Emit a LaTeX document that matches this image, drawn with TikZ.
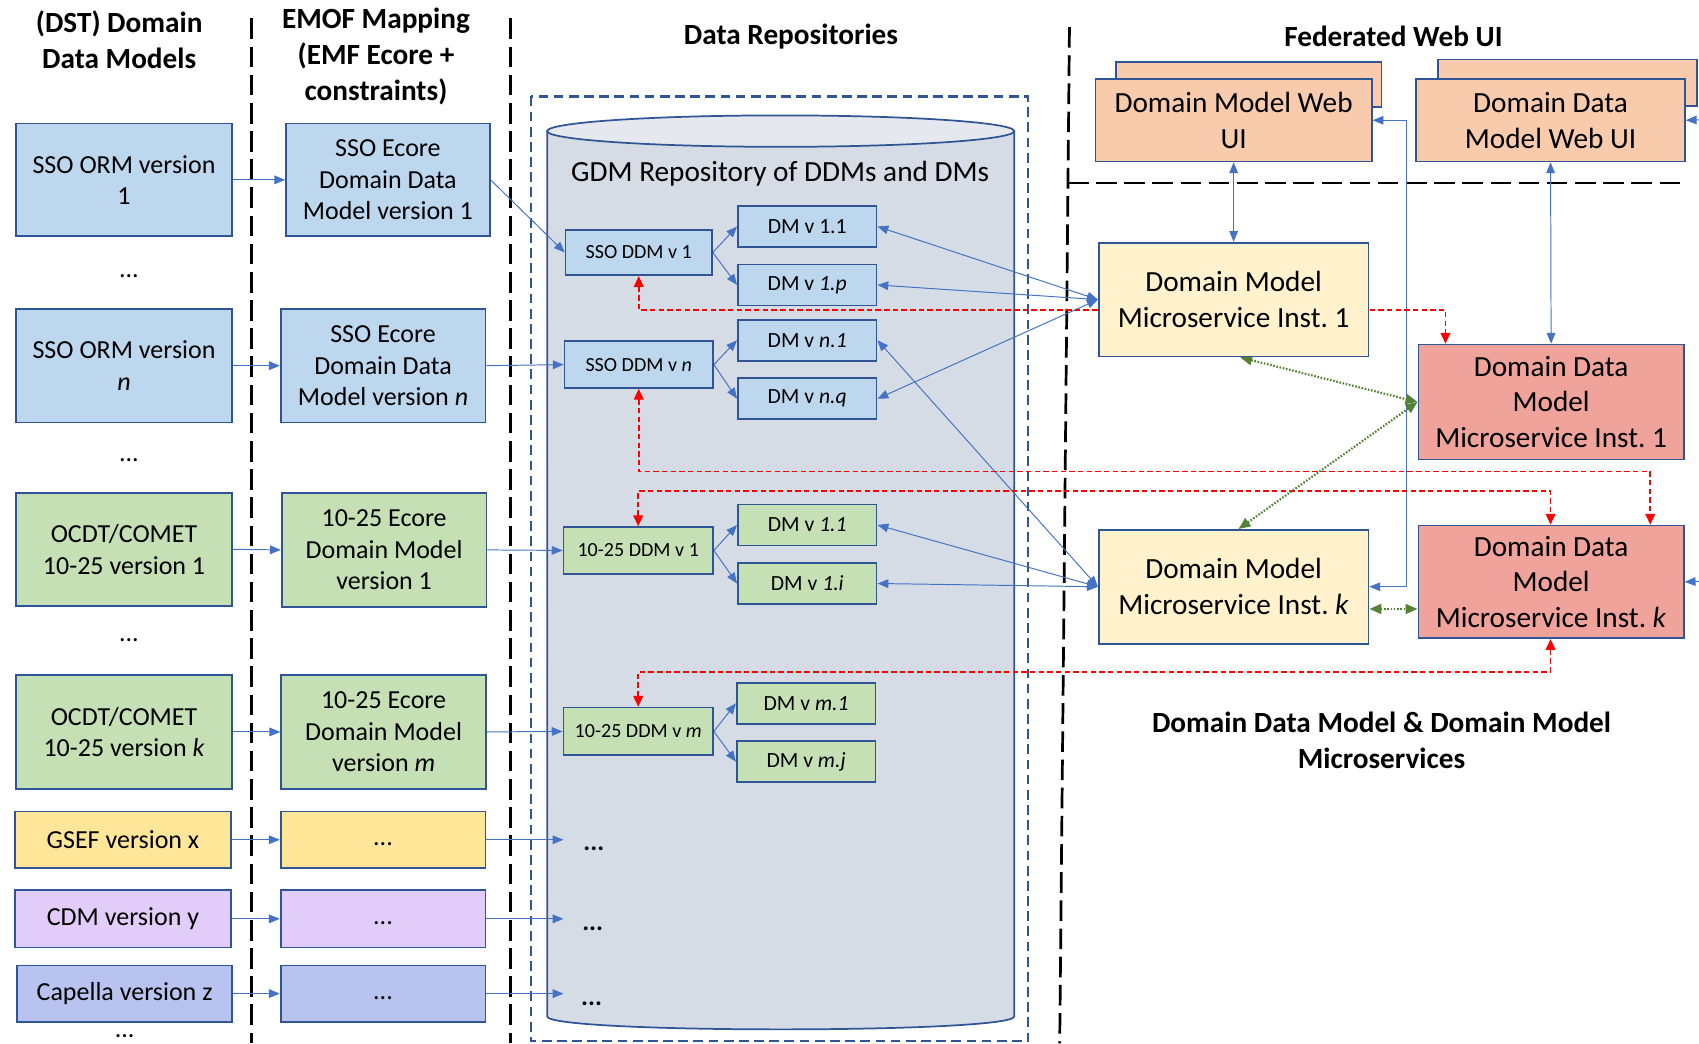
\documentclass[tikz,border=0pt]{standalone}
\usepackage{fontspec}
\setmainfont{Carlito}
\usetikzlibrary{arrows.meta,calc}
\frenchspacing

\definecolor{boxline}{HTML}{2F5597}
\definecolor{conn}{HTML}{4472C4}
\definecolor{bluefill}{HTML}{BDD7EE}
\definecolor{greenfill}{HTML}{C5E0B4}
\definecolor{gseffill}{HTML}{FFE699}
\definecolor{cdmfill}{HTML}{E2CCFA}
\definecolor{capfill}{HTML}{B9C3EF}
\definecolor{cylfill}{HTML}{D6DCE5}
\definecolor{cyltop}{HTML}{E5E9EF}
\definecolor{webfill}{HTML}{F8CBAD}
\definecolor{dmmsfill}{HTML}{FFF2CC}
\definecolor{ddmmsfill}{HTML}{EFA39B}
\definecolor{linkred}{HTML}{FF0000}
\definecolor{linkgreen}{HTML}{548235}

\pgfdeclarelayer{bg}
\pgfdeclarelayer{links}
\pgfsetlayers{bg,links,main}

\tikzset{
  box/.style={draw=boxline, line width=1.6pt, inner sep=0pt, align=center},
  sz/.style 2 args={minimum width=#1pt, minimum height=#2pt},
  fsL/.style={font=\fontsize{24}{29}\selectfont},
  fsH/.style={font=\bfseries\fontsize{27}{33}\selectfont},
  fsR/.style={font=\fontsize{27}{33}\selectfont},
  fsDDM/.style={font=\fontsize{18.5}{22}\selectfont},
  fsDM/.style={font=\fontsize{20}{24}\selectfont},
  fsDots/.style={font=\bfseries\fontsize{24}{29}\selectfont},
  lbl/.style={inner sep=0pt, align=center},
  flow/.style={draw=conn, line width=0.9pt, -{Triangle[length=10pt,width=8pt]}},
  flow2/.style={draw=conn, line width=0.9pt, {Triangle[length=10pt,width=8pt]}-{Triangle[length=10pt,width=8pt]}},
  redlink/.style={draw=linkred, line width=1.5pt, dash pattern=on 5pt off 3pt,
    {Triangle[length=10pt,width=9pt]}-{Triangle[length=10pt,width=9pt]}},
  greenlink/.style={draw=linkgreen, line width=2pt, dash pattern=on 1.5pt off 1.5pt,
    {Triangle[length=11pt,width=9pt]}-{Triangle[length=11pt,width=9pt]}},
  sepline/.style={draw=black, line width=2.5pt, dash pattern=on 19pt off 7pt},
  repoframe/.style={draw=boxline, line width=2pt, dash pattern=on 9pt off 5pt},
}
% ellipsis set on a full-height line, so it sits on the baseline like normal text
\newcommand{\moredots}{\vphantom{Ag}...}

\begin{document}
\begin{tikzpicture}[x=1pt,y=-1pt]
\useasboundingbox (0,0) rectangle (1568,963);

% ---------- column headers ----------
\node[lbl,fsH] (hDST) at (110,37) {(DST) Domain\\Data Models};
\node[lbl,fsH] (hEMOF) at (347,52) {EMOF Mapping\\(EMF Ecore +\\constraints)};
\node[lbl,fsH] (hRepo) at (730,34) {Data Repositories};
\node[lbl,fsH] (hWeb) at (1286,34) {Federated Web UI};
\node[lbl,fsH] (hMS) at (1275,683) {Domain Data Model \& Domain Model\\Microservices};

% ---------- domain data models ----------
\node[box,fill=bluefill,fsL,sz={199}{104}] (ormA) at (114.5,166) {SSO ORM version\\1};
\node[box,fill=bluefill,fsL,sz={199}{105}] (ormN) at (114.5,337.5) {SSO ORM version\\\textit{n}};
\node[box,fill=greenfill,fsL,sz={199}{104}] (ocdtA) at (114.5,507) {OCDT/COMET\\10-25 version 1};
\node[box,fill=greenfill,fsL,sz={199}{105}] (ocdtK) at (114.5,675.5) {OCDT/COMET\\10-25 version \textit{k}};
\node[box,fill=gseffill,fsL,sz={199}{52}] (gsef) at (113.5,775) {GSEF version x};
\node[box,fill=cdmfill,fsL,sz={199}{53}] (cdm) at (113.5,848) {CDM version y};
\node[box,fill=capfill,fsL,sz={198}{52}] (cap) at (115,917) {Capella version z};

\node[lbl,fsL] (dotsL1) at (119,255) {...};
\node[lbl,fsL] (dotsL2) at (119,425) {...};
\node[lbl,fsL] (dotsL3) at (119,591) {...};
\node[lbl,fsL] (dotsL4) at (115,956) {...};

% ---------- EMOF mapping ----------
\node[box,fill=bluefill,fsL,sz={188}{104}] (ecoreA) at (358,166) {SSO Ecore\\Domain Data\\Model version 1};
\node[box,fill=bluefill,fsL,sz={189}{105}] (ecoreN) at (353.5,337.5) {SSO Ecore\\Domain Data\\Model version \textit{n}};
\node[box,fill=greenfill,fsL,sz={189}{105}] (ecoreT) at (354.5,507.5) {10-25 Ecore\\Domain Model\\version 1};
\node[box,fill=greenfill,fsL,sz={189}{105}] (ecoreM) at (354,675.5) {10-25 Ecore\\Domain Model\\version \textit{m}};
\node[box,fill=gseffill,fsL,sz={189}{52}] (gsefE) at (353.5,775) {\moredots};
\node[box,fill=cdmfill,fsL,sz={189}{53}] (cdmE) at (353.5,848) {\moredots};
\node[box,fill=capfill,fsL,sz={189}{52}] (capE) at (353.5,917) {\moredots};

% ---------- separators and repository ----------
\begin{pgfonlayer}{bg}
  \draw[sepline] (232,17) -- (232,963);
  \draw[sepline] (471,17) -- (471,963);
  \draw[sepline] (987,25) -- (978,963);
  \draw[sepline] (985.6,169) -- (1550,169);
  \draw[repoframe] (490,89) rectangle (949,961);
  \filldraw[fill=cylfill, draw=boxline, line width=1.6pt]
    (505,121) -- (505,938) .. controls (505,954) and (936,954) .. (936,938) -- (936,121) -- cycle;
  \filldraw[fill=cyltop, draw=boxline, line width=1.6pt]
    (720.5,121) ellipse [x radius=215.5, y radius=14.5];
\end{pgfonlayer}

\node[lbl,fsR] (gdm) at (720,160) {GDM Repository of DDMs and DMs};

\node[box,fill=bluefill,fsDDM,sz={135}{42}] (ssoA) at (589.5,233) {SSO DDM v 1};
\node[box,fill=bluefill,fsDM,sz={128}{38}] (dmA1) at (745,209) {DM v 1.1};
\node[box,fill=bluefill,fsDM,sz={128}{38}] (dmAp) at (745,263) {DM v \textit{1.p}};
\node[box,fill=bluefill,fsDDM,sz={137}{43}] (ssoN) at (589.5,336.5) {SSO DDM v \textit{n}};
\node[box,fill=bluefill,fsDM,sz={128}{38}] (dmN1) at (745,314) {DM v \textit{n.1}};
\node[box,fill=bluefill,fsDM,sz={128}{38}] (dmNq) at (745,368) {DM v \textit{n.q}};
\node[box,fill=greenfill,fsDDM,sz={138}{43}] (ddmT) at (589,508) {10-25 DDM v 1};
\node[box,fill=greenfill,fsDM,sz={128}{38}] (dmT1) at (745,484.5) {DM v \textit{1.1}};
\node[box,fill=greenfill,fsDM,sz={128}{38}] (dmTi) at (745,538.5) {DM v \textit{1.i}};
\node[box,fill=greenfill,fsDDM,sz={138}{44}] (ddmM) at (589,675) {10-25 DDM v \textit{m}};
\node[box,fill=greenfill,fsDM,sz={128}{38}] (dmM1) at (744,649) {DM v \textit{m.1}};
\node[box,fill=greenfill,fsDM,sz={128}{38}] (dmMj) at (744,703) {DM v \textit{m.j}};

\coordinate (inG) at (520,775);
\coordinate (inC) at (520,848);
\coordinate (inP) at (520,917);
\node[lbl,fsDots] (dotsR1) at (548,783) {...};
\node[lbl,fsDots] (dotsR2) at (547,857) {...};
\node[lbl,fsDots] (dotsR3) at (546,926) {...};

% ---------- web UIs and microservices ----------
\draw[fill=webfill, draw=boxline, line width=1.6pt] (1030,57) rectangle (1275,99);
\node[box,fill=webfill,fsR,sz={255}{76}] (dmWeb) at (1138.5,111) {Domain Model Web\\UI};
\draw[fill=webfill, draw=boxline, line width=1.6pt] (1327,55) rectangle (1566,98);
\node[box,fill=webfill,fsR,sz={248}{76}] (ddmWeb) at (1431,111) {Domain Data\\Model Web UI};

\node[box,fill=dmmsfill,fsR,sz={249}{105}] (dmMS1) at (1138.5,276.5) {Domain Model\\Microservice Inst. 1};
\node[box,fill=ddmmsfill,fsR,sz={245}{106}] (ddmMS1) at (1431.5,371) {Domain Data\\Model\\Microservice Inst. 1};
\node[box,fill=dmmsfill,fsR,sz={249}{105}] (dmMSk) at (1138.5,541.5) {Domain Model\\Microservice Inst. \textit{k}};
\node[box,fill=ddmmsfill,fsR,sz={245}{104}] (ddmMSk) at (1431.5,537) {Domain Data\\Model\\Microservice Inst. \textit{k}};

\coordinate (extA) at (1590,110);
\coordinate (extB) at (1590,536);
\coordinate (r1) at (1334,286);
\coordinate (r2) at (1523,435);
\coordinate (r3) at (1431,453);
\coordinate (r4) at (1431,620);

% ---------- connectors ----------
\begin{pgfonlayer}{links}
  \draw[flow] (ormA.east) -- (ecoreA.west);
  \draw[flow] (ormN.east) -- (ecoreN.west);
  \draw[flow] (ocdtA.east) -- (ecoreT.west);
  \draw[flow] (ocdtK.east) -- (ecoreM.west);
  \draw[flow] (gsef.east) -- (gsefE.west);
  \draw[flow] (cdm.east) -- (cdmE.west);
  \draw[flow] (cap.east) -- (capE.west);

  \draw[flow] (ecoreA.east) -- (ssoA.west);
  \draw[flow] (ecoreN.east) -- (ssoN.west);
  \draw[flow] (ecoreT.east) -- (ddmT.west);
  \draw[flow] (ecoreM.east) -- (ddmM.west);
  \draw[flow] (gsefE.east) -- (inG);
  \draw[flow] (cdmE.east) -- (inC);
  \draw[flow] (capE.east) -- (inP);

  \draw[flow] (ssoA.east) -- (dmA1.west);
  \draw[flow] (ssoA.east) -- (dmAp.west);
  \draw[flow] (ssoN.east) -- (dmN1.west);
  \draw[flow] (ssoN.east) -- (dmNq.west);
  \draw[flow] (ddmT.east) -- (dmT1.west);
  \draw[flow] (ddmT.east) -- (dmTi.west);
  \draw[flow] (ddmM.east) -- (dmM1.west);
  \draw[flow] (ddmM.east) -- (dmMj.west);

  \draw[flow2] (dmMS1.west) -- (dmA1.east);
  \draw[flow2] (dmMS1.west) -- (dmAp.east);
  \draw[flow2] (dmMS1.west) -- (dmNq.east);
  \draw[flow2] (dmMSk.west) -- (dmN1.east);
  \draw[flow2] (dmMSk.west) -- (dmT1.east);
  \draw[flow2] (dmMSk.west) -- (dmTi.east);

  \draw[flow2] (dmWeb.south) -- (dmMS1.north);
  \draw[flow2] (ddmWeb.south) -- (ddmMS1.north);
  \draw[flow2] (dmWeb.east) -- ++(31,0) |- (dmMSk.east);
  \draw[flow] (extA) -- (ddmWeb.east);
  \draw[flow] (extB) -- (ddmMSk.east);

  \draw[redlink] (ssoA.south) |- (r1) -- (r1 |- ddmMS1.north);
  \draw[redlink] (ssoN.south) |- (r2) -- (r2 |- ddmMSk.north);
  \draw[redlink] (ddmT.north) |- (r3) -- (r3 |- ddmMSk.north);
  \draw[redlink] (ddmM.north) |- (r4) -- (r4 |- ddmMSk.south);

  \draw[greenlink] ($(dmMS1.south)+(6,0)$) -- (ddmMS1.west);
  \draw[greenlink] (ddmMS1.west) -- ($(dmMSk.north)+(4.5,0)$);
  \draw[greenlink] ($(dmMSk.east)+(0,20.5)$) -- ($(ddmMSk.west)+(0,25)$);
\end{pgfonlayer}
\end{tikzpicture}
\end{document}
